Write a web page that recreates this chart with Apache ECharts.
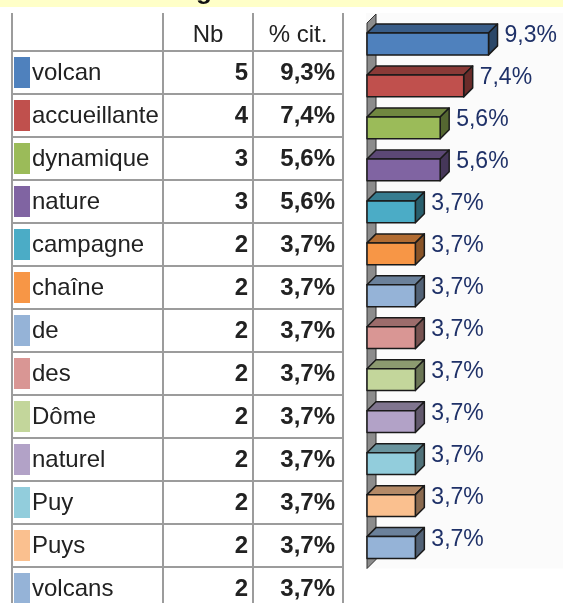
<!DOCTYPE html>
<html>
<head>
<meta charset="utf-8">
<script src="https://cdn.jsdelivr.net/npm/echarts@6/dist/echarts.min.js"></script>
<style>
  html, body { margin: 0; padding: 0; background: #ffffff; }
  #chart { width: 563px; height: 603px; }
</style>
</head>
<body>
<div id="chart"></div>
<script>
// Words cited, their counts and share of citations
const categories = ['volcan', 'accueillante', 'dynamique', 'nature', 'campagne', 'chaîne', 'de', 'des', 'Dôme', 'naturel', 'Puy', 'Puys', 'volcans'];
const counts = [5, 4, 3, 3, 2, 2, 2, 2, 2, 2, 2, 2, 2];
const percents = [9.3, 7.4, 5.6, 5.6, 3.7, 3.7, 3.7, 3.7, 3.7, 3.7, 3.7, 3.7, 3.7];
const colors = ['#4f81bd', '#c0504d', '#9bbb59', '#8064a2', '#4bacc6', '#f79646', '#95b3d7', '#d99694', '#c3d69b', '#b2a2c7', '#92cddc', '#fac08f', '#95b3d7'];
const headers = ['Nb', '% cit.'];

const FONT = '"Liberation Sans", Arial, sans-serif';
const LINE = '#9c9c9c';
const DEPTH = 9;
const ROW_H = 43;

function fmtPct(v) { return v.toFixed(1).replace('.', ',') + '%'; }

function shade(hex, k) {
  const n = parseInt(hex.slice(1), 16);
  const r = Math.round(((n >> 16) & 255) * k);
  const g = Math.round(((n >> 8) & 255) * k);
  const b = Math.round((n & 255) * k);
  return 'rgb(' + r + ',' + g + ',' + b + ')';
}

const chart = echarts.init(document.getElementById('chart'), null, { renderer: 'canvas' });

// Table columns (left edge, word/nb divider, nb/% divider, right edge)
const colX = [12, 163, 253, 343];
const tableTop = 51;

// 3D bar: front face, top face, right side, value label
function renderBar(params, api) {
  const idx = api.value(0);
  const val = api.value(1);
  const start = api.coord([0, idx]);
  const end = api.coord([val, idx]);
  const band = api.size([0, 1])[1];
  const h = band * 0.52;
  const x0 = start[0], x1 = end[0];
  const yc = start[1];
  const y0 = yc - h / 2, y1 = yc + h / 2;
  const c = colors[idx];
  const stroke = { stroke: '#1a1a1a', lineWidth: 1.5, lineJoin: 'round' };
  return {
    type: 'group',
    children: [
      { type: 'polygon', shape: { points: [[x0, y0], [x0 + DEPTH, y0 - DEPTH], [x1 + DEPTH, y0 - DEPTH], [x1, y0]] },
        style: Object.assign({ fill: shade(c, 0.72) }, stroke) },
      { type: 'polygon', shape: { points: [[x1, y0], [x1 + DEPTH, y0 - DEPTH], [x1 + DEPTH, y1 - DEPTH], [x1, y1]] },
        style: Object.assign({ fill: shade(c, 0.55) }, stroke) },
      { type: 'rect', shape: { x: x0, y: y0, width: x1 - x0, height: h },
        style: Object.assign({ fill: c }, stroke) },
      { type: 'text', x: x1 + DEPTH + 7, y: yc - 8,
        style: { text: fmtPct(val), font: '23px ' + FONT, fill: '#1f3168', verticalAlign: 'middle', align: 'left' } }
    ]
  };
}

// Plot backdrop and grey side wall behind the bars
function renderWall(params, api) {
  const cs = params.coordSys;
  return {
    type: 'group',
    children: [
      { type: 'rect', shape: { x: cs.x - 1, y: cs.y - DEPTH - 1, width: cs.width + 1, height: cs.height + DEPTH + 1 },
        style: { fill: '#fbfbfb' } },
      { type: 'polygon', shape: { points: [[cs.x, cs.y], [cs.x + DEPTH, cs.y - DEPTH], [cs.x + DEPTH, cs.y + cs.height - DEPTH], [cs.x, cs.y + cs.height]] },
        style: { fill: '#8c8c8c', stroke: '#333', lineWidth: 1 } }
    ]
  };
}

// One table row: colour swatch, word, count, percentage, bottom rule
function renderRow(params, api) {
  const idx = api.value(0);
  const yc = api.coord([0, idx])[1];
  const band = api.size([0, 1])[1];
  const top = yc - band / 2, bottom = yc + band / 2;
  return {
    type: 'group',
    children: [
      { type: 'rect', shape: { x: colX[0] + 2, y: top + 6, width: 16, height: band - 12 }, style: { fill: colors[idx] } },
      { type: 'text', x: colX[0] + 20, y: yc + 1,
        style: { text: categories[idx], font: '24px ' + FONT, fill: '#222', verticalAlign: 'middle', align: 'left' } },
      { type: 'text', x: colX[2] - 5, y: yc + 1,
        style: { text: String(counts[idx]), font: 'bold 24px ' + FONT, fill: '#222', verticalAlign: 'middle', align: 'right' } },
      { type: 'text', x: colX[3] - 8, y: yc + 1,
        style: { text: fmtPct(percents[idx]), font: 'bold 24px ' + FONT, fill: '#222', verticalAlign: 'middle', align: 'right' } },
      { type: 'line', shape: { x1: colX[0], y1: bottom, x2: colX[3], y2: bottom }, style: { stroke: LINE, lineWidth: 2 } }
    ]
  };
}

const graphics = [
  { type: 'rect', shape: { x: 0, y: 0, width: 563, height: 7 }, style: { fill: '#ffffc8' }, silent: true },
  { type: 'text', x: 196, y: -21, style: { text: 'g', font: 'bold 26px ' + FONT, fill: '#111' }, silent: true },
  { type: 'text', x: (colX[1] + colX[2]) / 2, y: 35,
    style: { text: headers[0], font: '24px ' + FONT, fill: '#222', align: 'center', verticalAlign: 'middle' } },
  { type: 'text', x: (colX[2] + colX[3]) / 2, y: 35,
    style: { text: headers[1], font: '24px ' + FONT, fill: '#222', align: 'center', verticalAlign: 'middle' } },
  { type: 'line', shape: { x1: colX[0], y1: tableTop, x2: colX[3], y2: tableTop }, style: { stroke: LINE, lineWidth: 2 } }
];
colX.forEach(function (x) {
  graphics.push({ type: 'line', shape: { x1: x, y1: 13, x2: x, y2: 603 }, style: { stroke: LINE, lineWidth: 2 } });
});

const idxs = categories.map(function (_, i) { return i; });

chart.setOption({
  animation: false,
  backgroundColor: '#ffffff',
  grid: [
    { left: 367, top: 23, width: 196, height: 545.5, outerBoundsMode: 'none' },
    // the last table row runs past the bottom edge of the page
    { left: colX[0], top: tableTop, width: colX[3] - colX[0], height: ROW_H * categories.length, outerBoundsMode: 'none' }
  ],
  xAxis: [
    { type: 'value', gridIndex: 0, min: 0, max: 15, show: false },
    { type: 'value', gridIndex: 1, min: 0, max: 1, show: false }
  ],
  yAxis: [
    { type: 'category', gridIndex: 0, data: categories, inverse: true, show: false },
    { type: 'category', gridIndex: 1, data: categories, inverse: true, show: false }
  ],
  graphic: graphics,
  series: [
    { type: 'custom', xAxisIndex: 0, yAxisIndex: 0, z: 1, renderItem: renderWall, data: [[0, 0]], silent: true },
    { type: 'custom', xAxisIndex: 0, yAxisIndex: 0, z: 2, renderItem: renderBar,
      data: idxs.map(function (i) { return [i, percents[i]]; }), encode: { x: 1, y: 0 }, silent: true },
    { type: 'custom', xAxisIndex: 1, yAxisIndex: 1, z: 3, renderItem: renderRow,
      data: idxs.map(function (i) { return [i, 0]; }), encode: { y: 0 }, silent: true, clip: false }
  ]
});
</script>
</body>
</html>
